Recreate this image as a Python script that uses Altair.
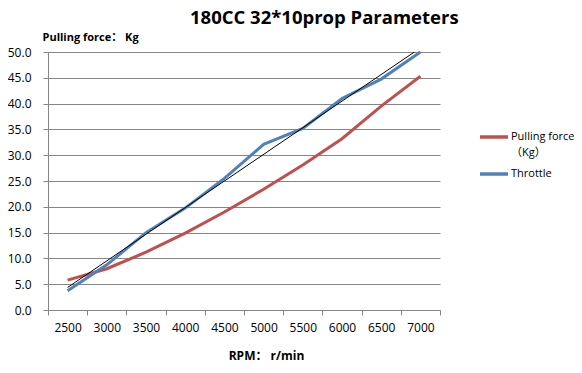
import altair as alt
import pandas as pd

# ---- data ----
rpm = ["2500", "3000", "3500", "4000", "4500", "5000", "5500", "6000", "6500", "7000"]
pulling_force = [5.8, 8.0, 11.2, 14.9, 19.0, 23.4, 28.1, 33.2, 39.5, 45.3]
throttle = [7.5, 17.5, 30.0, 39.5, 51.0, 64.2, 70.4, 82.0, 89.5, 100.0]
series_names = ["Pulling force（Kg）", "Throttle"]
series_colors = ["#C0504D", "#4F81BD"]
left_ticks = [0, 5, 10, 15, 20, 25, 30, 35, 40, 45, 50]
right_ticks = [0, 10, 20, 30, 40, 50, 60, 70, 80, 90, 100]

df = pd.DataFrame({
    "rpm": rpm,
    "idx": list(range(len(rpm))),
    "pull": pulling_force,
    "throttle": throttle,
})

FONT = "Open Sans, Noto Sans CJK SC, sans-serif"
GRID = "#868686"

x_enc = alt.X(
    "rpm:O",
    sort=rpm,
    scale=alt.Scale(type="band", paddingInner=0, paddingOuter=0),
    axis=alt.Axis(
        title="RPM： r/min",
        labelAngle=0,
        tickBand="extent",
        grid=False,
        labelPadding=7,
        titleX=218,
        titleY=45,
        titleBaseline="middle",
        titleAlign="center",
        titleFontWeight="bold",
        titleFontSize=12,
    ),
)

color_enc = alt.Color(
    "series:N",
    scale=alt.Scale(domain=series_names, range=series_colors),
    legend=alt.Legend(
        title=None,
        orient="none",
        legendX=430,
        legendY=69,
        symbolType="stroke",
        symbolSize=784,
        symbolStrokeWidth=3.5,
        labelOffset=1,
        labelFontSize=11,
        labelFont=FONT,
        labelColor="black",
        labelLimit=200,
        rowPadding=0,
        labelExpr="datum.label == 'Pulling force（Kg）' ? ['Pulling force', '（Kg）'] : datum.label",
    ),
)

pull_line = (
    alt.Chart(df)
    .transform_calculate(series="'Pulling force（Kg）'")
    .mark_line(strokeWidth=3)
    .encode(
        x=x_enc,
        y=alt.Y(
            "pull:Q",
            scale=alt.Scale(domain=[0, 50]),
            axis=alt.Axis(
                values=left_ticks,
                format=".1f",
                title="Pulling force： Kg",
                titleAngle=0,
                titleX=-6,
                titleY=-15,
                titleAlign="left",
                titleBaseline="middle",
                titleFontWeight="bold",
                titleFontSize=11,
                labelPadding=12,
                grid=True,
            ),
        ),
        color=color_enc,
    )
)

throttle_line = (
    alt.Chart(df)
    .transform_calculate(series="'Throttle'")
    .mark_line(strokeWidth=3)
    .encode(
        x=x_enc,
        y=alt.Y(
            "throttle:Q",
            scale=alt.Scale(domain=[0, 100]),
            axis=alt.Axis(
                orient="right",
                values=right_ticks,
                labelExpr="datum.value + '%'",
                title=None,
                grid=False,
                labelPadding=11,
            ),
        ),
        color=color_enc,
    )
)

trend_line = (
    alt.Chart(df)
    .transform_regression("idx", "throttle", method="linear")
    .transform_filter("abs(datum.idx - round(datum.idx)) < 1e-6")
    .transform_calculate(rpm="'' + (2500 + 500 * round(datum.idx))")
    .mark_line(color="black", strokeWidth=1, clip=True)
    .encode(
        x=x_enc,
        y=alt.Y("throttle:Q", scale=alt.Scale(domain=[0, 100]), axis=None),
    )
)

right_group = alt.layer(throttle_line, trend_line)

chart = (
    alt.layer(pull_line, right_group)
    .resolve_scale(y="independent")
    .properties(
        width=392,
        height=258,
        autosize=alt.AutoSizeParams(type="none"),
        padding={"left": 40, "top": 44, "right": 134, "bottom": 55},
        title=alt.TitleParams(
            text="180CC 32*10prop Parameters",
            anchor="start",
            frame="group",
            dx=142,
            fontSize=18.5,
            fontWeight="bold",
            font=FONT,
            color="black",
        ),
    )
    .configure(background="white", style={"guide-label": {"lineHeight": 16}})
    .configure_view(stroke=None)
    .configure_axis(
        domainColor=GRID,
        tickColor=GRID,
        gridColor=GRID,
        gridOpacity=1,
        tickSize=5,
        labelFont=FONT,
        labelFontSize=12,
        labelColor="black",
        titleFont=FONT,
        titleColor="black",
    )
)

chart.save("out.html", embed_options={"renderer": "svg", "actions": False})
